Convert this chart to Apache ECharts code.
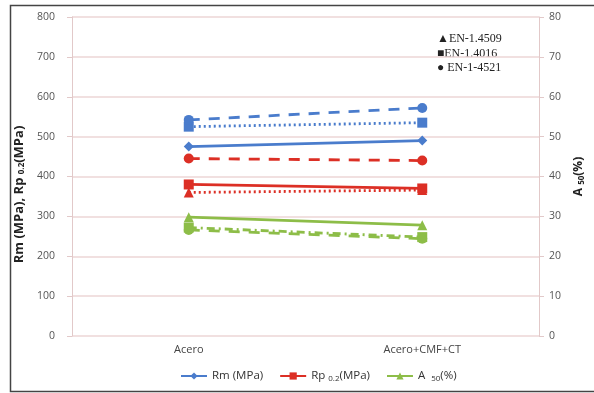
<!DOCTYPE html>
<html>
<head>
<meta charset="utf-8">
<script src="https://cdn.jsdelivr.net/npm/echarts@6/dist/echarts.min.js"></script>
<style>
  html, body { margin: 0; padding: 0; background: #fff; }
  #chart { width: 594px; height: 393px; }
</style>
</head>
<body>
<div id="chart"></div>
<script>
// Categories and tick labels
const categories = ['Acero', 'Acero+CMF+CT'];
const leftTicks = [0, 100, 200, 300, 400, 500, 600, 700, 800];
const rightTicks = [0, 10, 20, 30, 40, 50, 60, 70, 80];

// Rm (MPa) per steel grade
const rm4509 = [475, 490];
const rm4016 = [525, 535];
const rm4521 = [542, 572];
// Rp 0.2 (MPa) per steel grade
const rp4509 = [360, 366];
const rp4016 = [380, 370];
const rp4521 = [445, 440];
// A 50 (%) per steel grade
const a4509 = [29.8, 27.8];
const a4016 = [27.2, 24.8];
const a4521 = [26.6, 24.4];

const BLUE = '#4a7ccc';
const RED = '#dc2f25';
const GREEN = '#8dbd48';
const FONT = 'Open Sans';

const chart = echarts.init(document.getElementById('chart'), null, { renderer: 'canvas' });

function line(name, data, color, symbol, type, yAxisIndex, z) {
  return {
    name: name,
    type: 'line',
    yAxisIndex: yAxisIndex,
    data: data,
    symbol: symbol,
    symbolSize: 10,
    showSymbol: true,
    z: z,
    itemStyle: { color: color },
    lineStyle: { color: color, width: 2.8, type: type },
    emphasis: { disabled: true },
    animation: false
  };
}

function nameRich(size) {
  return {
    a: { fontSize: size, fontWeight: 'bold', fontFamily: FONT, color: '#222' },
    s: { fontSize: 8, fontWeight: 'bold', fontFamily: FONT, color: '#222', padding: [6, 0, 0, 0] }
  };
}

chart.setOption({
  animation: false,
  backgroundColor: '#fff',
  grid: { left: 72, right: 49, top: 17, bottom: 57 },
  xAxis: {
    type: 'category',
    data: categories,
    boundaryGap: true,
    axisLine: { show: false },
    axisTick: { show: false },
    axisLabel: { color: '#444', fontSize: 11, fontFamily: FONT, margin: 8 }
  },
  yAxis: [
    {
      type: 'value',
      min: 0, max: 800, interval: 100,
      position: 'left',
      name: '{a|Rm (MPa), Rp }{s|0.2}{a|(MPa)}',
      nameLocation: 'middle',
      nameRotate: 90,
      nameGap: 42,
      nameTextStyle: { rich: nameRich(13), padding: [0, 36, 0, 0] },
      axisLine: { show: true, lineStyle: { color: '#e2c9c9', width: 1 } },
      axisTick: { show: true, length: 5, lineStyle: { color: '#e2c9c9' } },
      axisLabel: {
        color: '#555', fontSize: 10.5, fontFamily: FONT, margin: 17,
        formatter: v => leftTicks.includes(v) ? String(v) : ''
      },
      splitLine: { show: true, lineStyle: { color: '#ecd6d6', width: 1.5 } }
    },
    {
      type: 'value',
      min: 0, max: 80, interval: 10,
      position: 'right',
      name: '{a|A }{s|50}{a|(%)}',
      nameLocation: 'middle',
      nameRotate: 90,
      nameGap: 33,
      nameTextStyle: { rich: nameRich(12) },
      axisLine: { show: true, lineStyle: { color: '#e2c9c9', width: 1 } },
      axisTick: { show: true, length: 5, lineStyle: { color: '#e2c9c9' } },
      axisLabel: {
        color: '#555', fontSize: 10.5, fontFamily: FONT, margin: 10,
        formatter: v => rightTicks.includes(v) ? String(v) : ''
      },
      splitLine: { show: false }
    }
  ],
  legend: {
    bottom: 5,
    left: 175,
    itemGap: 16,
    itemWidth: 26,
    itemHeight: 9,
    data: ['Rm (MPa)', 'Rp 0.2(MPa)', 'A 50(%)'],
    formatter: function (name) {
      if (name === 'Rp 0.2(MPa)') return '{t|Rp }{s|0.2}{t|(MPa)}';
      if (name === 'A 50(%)') return '{t|A  }{s|50}{t|(%)}';
      return '{t|' + name + '}';
    },
    textStyle: {
      rich: {
        t: { fontSize: 11.5, fontFamily: FONT, color: '#333' },
        s: { fontSize: 8, fontFamily: FONT, color: '#333', padding: [6, 0, 0, 0] }
      }
    }
  },
  graphic: [
    {
      type: 'rect',
      shape: { x: 10.5, y: 5.5, width: 600, height: 386 },
      style: { fill: 'none', stroke: '#444', lineWidth: 1.5 },
      silent: true, z: 100
    },
    {
      type: 'group', left: 437, top: 33, silent: true,
      children: [
        { type: 'text', left: 0, top: 0, style: { text: '▲EN-1.4509', font: '12px "Liberation Serif"', fill: '#222' } },
        { type: 'text', left: 0, top: 15, style: { text: '■EN-1.4016', font: '12px "Liberation Serif"', fill: '#222' } },
        { type: 'text', left: 0, top: 29, style: { text: '● EN-1-4521', font: '12px "Liberation Serif"', fill: '#222' } }
      ]
    }
  ],
  series: [
    line('Rm (MPa)', rm4509, BLUE, 'diamond', 'solid', 0, 5),
    line('Rm EN-1.4016', rm4016, BLUE, 'rect', [2, 3], 0, 4),
    line('Rm EN-1-4521', rm4521, BLUE, 'circle', [11, 9], 0, 4),
    line('Rp 0.2(MPa)', rp4016, RED, 'rect', 'solid', 0, 5),
    line('Rp EN-1.4509', rp4509, RED, 'triangle', [2, 3], 0, 4),
    line('Rp EN-1-4521', rp4521, RED, 'circle', [11, 9], 0, 4),
    line('A 50(%)', a4509, GREEN, 'triangle', 'solid', 1, 5),
    line('A EN-1.4016', a4016, GREEN, 'rect', [8, 4, 2, 4], 1, 4),
    line('A EN-1-4521', a4521, GREEN, 'circle', [11, 9], 1, 4)
  ]
});
</script>
</body>
</html>
